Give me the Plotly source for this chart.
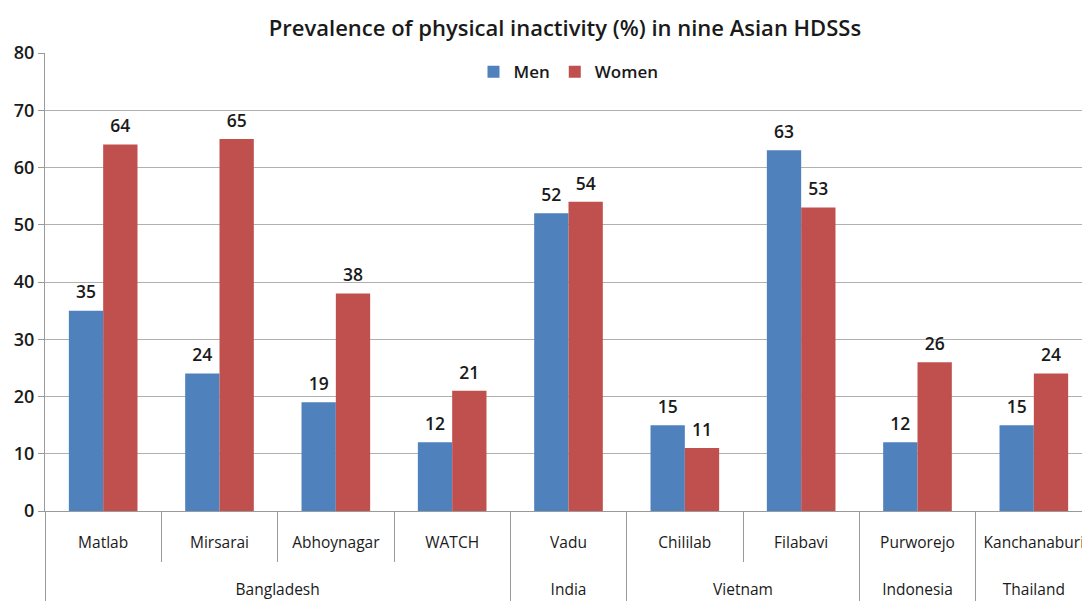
import plotly.graph_objects as go

countries = ["Bangladesh", "Bangladesh", "Bangladesh", "Bangladesh", "India",
             "Vietnam", "Vietnam", "Indonesia", "Thailand"]
sites = ["Matlab", "Mirsarai", "Abhoynagar", "WATCH", "Vadu",
         "Chililab", "Filabavi", "Purworejo", "Kanchanaburi"]
men = [35, 24, 19, 12, 52, 15, 63, 12, 15]
women = [64, 65, 38, 21, 54, 11, 53, 26, 24]
y_ticks = [0, 10, 20, 30, 40, 50, 60, 70, 80]

FONT = "Open Sans, Noto Sans, sans-serif"
x_levels = [["<br><br>" + c for c in countries], sites]
label_tpl = "<span style='font-size:17.5px'>%{y}</span><br> "

fig = go.Figure()
fig.add_trace(go.Bar(
    x=x_levels, y=men, name="Men",
    marker=dict(color="#4F81BD", line=dict(width=0)),
    texttemplate=label_tpl, textposition="outside", cliponaxis=False,
    textfont=dict(size=5.5, color="#1a1a1a", family=FONT, weight=600),
))
fig.add_trace(go.Bar(
    x=x_levels, y=women, name="Women",
    marker=dict(color="#C0504D", line=dict(width=0)),
    texttemplate=label_tpl, textposition="outside", cliponaxis=False,
    textfont=dict(size=5.5, color="#1a1a1a", family=FONT, weight=600),
))

fig.update_layout(
    width=1090, height=606,
    margin=dict(l=37, r=6, t=45, b=103),
    paper_bgcolor="white", plot_bgcolor="white",
    barmode="group", bargap=0.41, bargroupgap=0,
    font=dict(family=FONT, color="#1a1a1a"),
    title=dict(text="Prevalence of physical inactivity (%) in nine Asian HDSSs",
               x=0.511, xanchor="center", y=0.967, yanchor="middle",
               font=dict(size=22, family=FONT, color="#1a1a1a", weight=600)),
    legend=dict(orientation="h", x=0.5, xanchor="center", y=0.958, yanchor="middle",
                font=dict(size=17, family=FONT, weight=600), bgcolor="rgba(0,0,0,0)",
                itemwidth=30, traceorder="normal"),
    yaxis=dict(range=[0, 80], tickvals=y_ticks, showgrid=True, gridcolor="#b0b0b0",
               gridwidth=1.3, showline=True, linecolor="#9a9a9a", linewidth=1.3,
               ticks="outside", ticklen=6, tickcolor="#9a9a9a", automargin=False,
               tickfont=dict(size=18, family=FONT, weight=600), zeroline=False),
    xaxis=dict(type="multicategory", showline=True, linecolor="#9a9a9a", linewidth=1.3,
               showdividers=True, dividercolor="#9a9a9a", dividerwidth=1.3,
               tickfont=dict(size=15.5, family=FONT, weight=500), automargin=False,
               ticks="outside", ticklen=50, tickcolor="#9a9a9a", tickwidth=1.3,
               ticklabelstandoff=17),
)

fig.write_html("out.html")
